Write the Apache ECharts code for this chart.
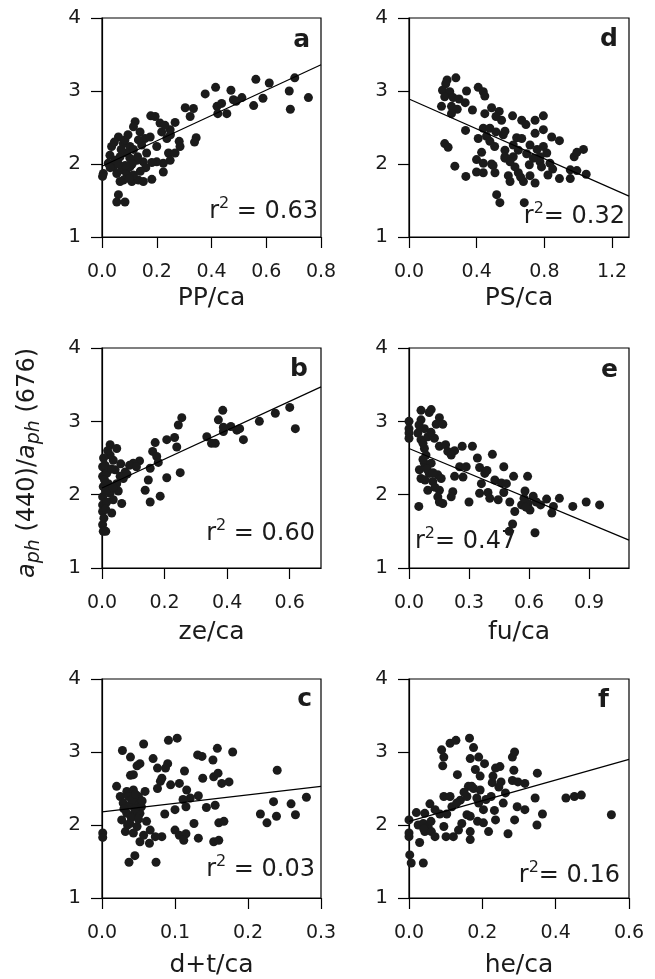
<!DOCTYPE html>
<html>
<head>
<meta charset="utf-8">
<script src="https://cdn.jsdelivr.net/npm/echarts@6/dist/echarts.min.js"></script>
<style>
html,body{margin:0;padding:0;background:#fff;}
#chart{width:655px;height:979px;}
</style>
</head>
<body>
<div id="chart"></div>
<script>
// ---------- DATA ----------
const yTicks = [1, 2, 3, 4];
const panelLetters = ['a', 'b', 'c', 'd', 'e', 'f'];
const xNames = ['PP/ca', 'ze/ca', 'd+t/ca', 'PS/ca', 'fu/ca', 'he/ca'];
const xMaxes = [0.8, 0.7, 0.3, 1.3, 1.1, 0.6];
const xTicksA = [0, 0.2, 0.4, 0.6, 0.8];
const xTicksB = [0, 0.2, 0.4, 0.6];
const xTicksC = [0, 0.1, 0.2, 0.3];
const xTicksD = [0, 0.4, 0.8, 1.2];
const xTicksE = [0, 0.3, 0.6, 0.9];
const xTicksF = [0, 0.2, 0.4, 0.6];
const r2Labels = ['{m|r}{s|2}{m| = 0.63}', '{m|r}{s|2}{m| = 0.60}', '{m|r}{s|2}{m| = 0.03}', '{m|r}{s|2}{m|= 0.32}', '{m|r}{s|2}{m|= 0.47}', '{m|r}{s|2}{m|= 0.16}'];

const fitA = [[0, 1.97], [0.8, 3.36]];
const fitB = [[0, 2.09], [0.7, 3.47]];
const fitC = [[0, 2.18], [0.3, 2.53]];
const fitD = [[0, 2.89], [1.3, 1.56]];
const fitE = [[0, 2.63], [1.1, 1.38]];
const fitF = [[0, 2.05], [0.6, 2.90]];

const ppData = [[0.704,3.18],[0.754,2.91],[0.684,3.00],[0.688,2.75],[0.611,3.11],[0.562,3.16],[0.588,2.90],[0.554,2.80],[0.511,2.91],[0.480,2.88],[0.471,3.01],[0.415,3.05],[0.377,2.96],[0.420,2.79],[0.437,2.83],[0.456,2.69],[0.423,2.69],[0.490,2.86],[0.304,2.77],[0.334,2.76],[0.322,2.65],[0.344,2.36],[0.338,2.30],[0.282,2.31],[0.285,2.24],[0.267,2.57],[0.249,2.47],[0.237,2.35],[0.218,2.44],[0.212,2.56],[0.194,2.65],[0.178,2.66],[0.121,2.58],[0.115,2.51],[0.139,2.44],[0.157,2.35],[0.176,2.37],[0.060,2.37],[0.035,2.24],[0.078,2.28],[0.102,2.24],[0.145,2.26],[0.200,2.24],[0.243,2.15],[0.267,2.15],[0.249,2.05],[0.224,2.01],[0.200,2.03],[0.182,2.02],[0.151,2.03],[0.127,2.05],[0.102,2.08],[0.066,2.10],[0.029,2.12],[0.023,2.01],[0.041,1.96],[0.054,1.87],[0.072,1.92],[0.090,1.87],[0.109,1.76],[0.078,1.78],[0.066,1.76],[0.133,1.78],[0.151,1.76],[0.182,1.79],[0.224,1.89],[0.005,1.87],[0.002,1.83],[0.060,1.58],[0.054,1.48],[0.084,1.48],[0.115,1.85],[0.102,1.96],[0.048,2.05],[0.090,2.15],[0.115,2.20],[0.163,2.15],[0.133,2.33],[0.084,2.33],[0.230,2.53],[0.250,2.40],[0.045,2.30],[0.095,2.40],[0.070,2.20],[0.130,2.10],[0.110,2.00],[0.085,1.98],[0.060,2.00],[0.160,1.95],[0.030,1.95],[0.140,1.90],[0.100,1.80]];

const zeData = [[0.600,3.19],[0.618,2.90],[0.554,3.11],[0.503,3.00],[0.452,2.75],[0.431,2.88],[0.440,2.90],[0.412,2.93],[0.388,2.86],[0.386,3.15],[0.372,3.02],[0.388,2.92],[0.362,2.70],[0.335,2.79],[0.350,2.70],[0.255,3.05],[0.244,2.95],[0.232,2.78],[0.239,2.65],[0.207,2.75],[0.170,2.71],[0.162,2.59],[0.175,2.52],[0.180,2.44],[0.154,2.36],[0.148,2.20],[0.138,2.06],[0.154,1.90],[0.186,1.98],[0.207,2.23],[0.250,2.30],[0.120,2.46],[0.100,2.43],[0.088,2.40],[0.074,2.31],[0.068,2.22],[0.052,2.05],[0.063,1.88],[0.031,1.75],[0.002,1.59],[0.004,1.50],[0.012,1.50],[0.026,2.68],[0.047,2.63],[0.026,2.54],[0.036,2.47],[0.002,2.38],[0.002,2.25],[0.004,2.11],[0.002,1.97],[0.002,1.86],[0.002,1.77],[0.015,2.29],[0.020,2.15],[0.026,2.02],[0.036,1.93],[0.042,2.34],[0.047,2.15],[0.010,2.40],[0.012,2.05],[0.015,1.90],[0.030,2.35],[0.058,2.25],[0.008,2.20],[0.018,2.60],[0.005,2.50],[0.035,2.10],[0.060,2.42],[0.080,2.28],[0.110,2.38],[0.012,1.80],[0.006,1.68]];

const dtData = [[0.057,3.11],[0.091,3.16],[0.103,3.19],[0.028,3.02],[0.039,2.93],[0.052,2.84],[0.048,2.81],[0.070,2.91],[0.076,2.78],[0.090,2.84],[0.087,2.78],[0.039,2.68],[0.043,2.69],[0.082,2.64],[0.080,2.60],[0.113,2.74],[0.076,2.50],[0.094,2.55],[0.106,2.57],[0.116,2.48],[0.131,2.96],[0.137,2.94],[0.152,2.89],[0.158,3.05],[0.179,3.00],[0.138,2.64],[0.153,2.66],[0.159,2.71],[0.164,2.57],[0.174,2.59],[0.240,2.75],[0.235,2.32],[0.259,2.29],[0.280,2.38],[0.217,2.15],[0.226,2.03],[0.239,2.12],[0.265,2.14],[0.155,2.27],[0.143,2.24],[0.132,2.40],[0.121,2.37],[0.111,2.35],[0.115,2.25],[0.100,2.21],[0.086,2.15],[0.126,2.02],[0.160,2.03],[0.167,2.05],[0.100,1.93],[0.106,1.86],[0.115,1.88],[0.112,1.79],[0.132,1.82],[0.153,1.77],[0.160,1.79],[0.082,1.84],[0.073,1.84],[0.065,1.75],[0.052,1.77],[0.037,1.49],[0.045,1.58],[0.074,1.49],[0.001,1.89],[0.001,1.83],[0.020,2.53],[0.025,2.39],[0.034,2.46],[0.043,2.48],[0.059,2.46],[0.029,2.30],[0.038,2.27],[0.048,2.32],[0.054,2.25],[0.034,2.16],[0.043,2.14],[0.052,2.16],[0.027,2.07],[0.038,2.02],[0.048,1.98],[0.061,2.05],[0.066,1.93],[0.032,1.91],[0.043,1.89],[0.057,1.86],[0.036,2.39],[0.050,2.39],[0.041,2.35],[0.045,2.22],[0.040,2.10],[0.035,2.00],[0.050,2.08],[0.030,2.22],[0.046,2.42],[0.055,2.33]];

const psData = [[0.277,3.18],[0.225,3.15],[0.217,3.10],[0.198,3.01],[0.241,2.99],[0.211,2.92],[0.261,2.91],[0.296,2.89],[0.340,3.00],[0.332,2.84],[0.192,2.79],[0.251,2.79],[0.285,2.75],[0.251,2.69],[0.375,2.74],[0.409,3.05],[0.439,2.99],[0.448,2.93],[0.488,2.77],[0.448,2.69],[0.533,2.72],[0.547,2.60],[0.514,2.65],[0.612,2.66],[0.666,2.60],[0.691,2.54],[0.745,2.60],[0.794,2.66],[0.334,2.46],[0.439,2.49],[0.478,2.49],[0.409,2.35],[0.458,2.38],[0.514,2.44],[0.557,2.40],[0.567,2.45],[0.636,2.36],[0.666,2.35],[0.745,2.42],[0.794,2.47],[0.843,2.37],[0.889,2.32],[0.478,2.31],[0.506,2.24],[0.567,2.19],[0.616,2.26],[0.646,2.19],[0.715,2.26],[0.794,2.24],[0.814,2.15],[0.774,2.10],[0.695,2.14],[0.616,2.10],[0.567,2.08],[0.429,2.16],[0.399,2.06],[0.488,2.00],[0.439,2.01],[0.211,2.28],[0.231,2.23],[0.271,1.97],[0.336,1.83],[0.399,1.89],[0.439,1.88],[0.508,1.88],[0.497,1.98],[0.587,1.84],[0.597,1.76],[0.646,1.88],[0.626,1.96],[0.676,1.76],[0.715,1.84],[0.745,1.74],[0.660,1.82],[0.711,1.99],[0.774,2.03],[0.783,1.96],[0.833,2.01],[0.849,1.93],[0.821,1.85],[0.889,1.80],[0.953,1.92],[0.953,1.80],[0.992,1.91],[1.047,1.86],[0.976,2.10],[0.992,2.16],[1.031,2.20],[0.518,1.58],[0.537,1.47],[0.681,1.47],[0.567,2.10],[0.597,2.03],[0.757,2.20],[0.735,2.08]];

const fuData = [[0.000,3.00],[0.000,2.90],[0.000,2.84],[0.000,2.77],[0.111,3.16],[0.060,3.15],[0.101,3.12],[0.060,3.02],[0.152,3.05],[0.136,2.96],[0.169,2.96],[0.077,2.90],[0.044,2.84],[0.060,2.75],[0.094,2.79],[0.127,2.77],[0.152,2.66],[0.183,2.68],[0.194,2.59],[0.228,2.60],[0.211,2.54],[0.266,2.66],[0.317,2.66],[0.077,2.63],[0.085,2.54],[0.077,2.43],[0.052,2.34],[0.060,2.22],[0.111,2.43],[0.101,2.29],[0.144,2.27],[0.161,2.22],[0.119,2.18],[0.094,2.06],[0.152,2.06],[0.144,1.97],[0.152,1.90],[0.169,1.88],[0.049,1.84],[0.219,2.04],[0.211,1.97],[0.228,2.25],[0.253,2.38],[0.286,2.38],[0.270,2.24],[0.300,1.90],[0.342,2.50],[0.353,2.37],[0.379,2.29],[0.417,2.55],[0.390,2.33],[0.362,2.15],[0.353,2.02],[0.395,2.03],[0.404,1.95],[0.446,1.93],[0.429,2.20],[0.474,2.38],[0.462,2.16],[0.487,2.15],[0.474,2.03],[0.523,2.25],[0.504,1.90],[0.529,1.77],[0.518,1.60],[0.501,1.50],[0.593,2.25],[0.580,2.05],[0.621,1.98],[0.563,1.86],[0.596,1.88],[0.605,1.79],[0.637,1.90],[0.658,1.86],[0.688,1.94],[0.714,1.75],[0.722,1.84],[0.752,1.95],[0.630,1.48],[0.819,1.84],[0.886,1.90],[0.953,1.86],[0.575,1.95],[0.585,1.83],[0.070,2.48],[0.090,2.35],[0.120,2.30],[0.080,2.20],[0.130,2.10],[0.070,2.70],[0.110,2.85],[0.050,2.95]];

const heData = [[0.000,2.07],[0.000,1.89],[0.000,1.84],[0.002,1.59],[0.006,1.48],[0.039,1.48],[0.029,1.76],[0.020,2.17],[0.043,2.16],[0.057,2.29],[0.071,2.21],[0.084,2.15],[0.103,2.15],[0.025,2.00],[0.039,2.02],[0.052,1.98],[0.043,1.91],[0.061,1.91],[0.071,1.84],[0.095,1.98],[0.101,1.84],[0.121,1.84],[0.135,1.93],[0.144,2.02],[0.167,1.91],[0.167,1.80],[0.095,2.39],[0.112,2.39],[0.117,2.25],[0.140,2.34],[0.158,2.39],[0.162,2.53],[0.158,2.14],[0.167,2.12],[0.089,3.03],[0.095,2.93],[0.092,2.81],[0.112,3.12],[0.128,3.16],[0.132,2.69],[0.165,3.19],[0.176,3.06],[0.167,2.91],[0.190,2.93],[0.206,2.84],[0.181,2.76],[0.194,2.67],[0.176,2.50],[0.194,2.48],[0.185,2.37],[0.190,2.30],[0.203,2.21],[0.187,2.05],[0.203,2.03],[0.217,1.91],[0.236,2.07],[0.233,2.20],[0.224,2.39],[0.227,2.58],[0.229,2.67],[0.236,2.78],[0.248,2.80],[0.251,2.59],[0.245,2.52],[0.263,2.44],[0.257,2.30],[0.282,2.61],[0.286,2.75],[0.282,2.93],[0.288,3.00],[0.297,2.59],[0.316,2.57],[0.295,2.25],[0.316,2.21],[0.288,2.07],[0.270,1.88],[0.350,2.71],[0.344,2.37],[0.364,2.15],[0.349,2.00],[0.428,2.37],[0.451,2.39],[0.470,2.41],[0.552,2.14],[0.171,2.53],[0.040,1.95],[0.060,2.05],[0.130,2.30],[0.210,2.35],[0.150,2.45]];

// ---------- LAYOUT ----------
const FONT = 'DejaVu Sans';
const INK = '#1b1b1b';
const grids = [
  {left: 102, top: 18, width: 219, height: 219},
  {left: 102, top: 348, width: 219, height: 220},
  {left: 102, top: 679, width: 219, height: 219},
  {left: 409, top: 18, width: 220, height: 219},
  {left: 409, top: 348, width: 220, height: 220},
  {left: 409, top: 679, width: 220, height: 219}
];
const nameGaps = [49, 52, 55, 49, 52, 55];
const xTickSets = [xTicksA, xTicksB, xTicksC, xTicksD, xTicksE, xTicksF];
const dataSets = [ppData, zeData, dtData, psData, fuData, heData];
const fits = [fitA, fitB, fitC, fitD, fitE, fitF];

const xAxes = [], yAxes = [], series = [];
grids.forEach((g, i) => {
  const ticks = xTickSets[i];
  xAxes.push({
    gridIndex: i, type: 'value', min: 0, max: xMaxes[i],
    interval: ticks[1] - ticks[0],
    name: xNames[i], nameLocation: 'middle', nameGap: nameGaps[i],
    nameTextStyle: {fontFamily: FONT, fontSize: 25, color: INK},
    axisLine: {show: true, onZero: false, lineStyle: {color: '#000', width: 1.2}},
    axisTick: {show: true, inside: false, length: 11, lineStyle: {color: '#000', width: 1.2}, customValues: ticks},
    axisLabel: {show: true, margin: 26, fontFamily: FONT, fontSize: 19, color: INK,
      customValues: ticks, formatter: v => v.toFixed(1), showMinLabel: true, showMaxLabel: true},
    splitLine: {show: false}
  });
  yAxes.push({
    gridIndex: i, type: 'value', min: 1, max: 4, interval: 1,
    axisLine: {show: true, onZero: false, lineStyle: {color: '#000', width: 1.2}},
    axisTick: {show: true, inside: false, length: 11, lineStyle: {color: '#000', width: 1.2}, customValues: yTicks},
    axisLabel: {show: true, margin: 21, fontFamily: FONT, fontSize: 20, color: INK, customValues: yTicks},
    splitLine: {show: false}
  });
  series.push({
    type: 'scatter', xAxisIndex: i, yAxisIndex: i,
    data: dataSets[i], symbol: 'circle', symbolSize: 9,
    itemStyle: {color: INK, opacity: 1}, silent: true
  });
  series.push({
    type: 'line', xAxisIndex: i, yAxisIndex: i,
    data: fits[i], symbol: 'none', silent: true,
    lineStyle: {color: '#000', width: 1.2}, z: 3
  });
});

const gridOpts = grids.map(g => Object.assign({}, g, {show: true, borderColor: '#000', borderWidth: 1.2, backgroundColor: 'transparent', containLabel: false}));

// letter + r2 positions
const letterPos = [[310, 40], [308, 369], [312, 699], [618, 39], [618, 370], [609, 700]];
const r2Pos = [[318, 210, 'right'], [315, 532, 'right'], [315, 868, 'right'], [625, 215, 'right'], [415, 540, 'left'], [620, 874, 'right']];

const graphics = [];
panelLetters.forEach((L, i) => {
  graphics.push({
    type: 'text', x: letterPos[i][0], y: letterPos[i][1], silent: true,
    style: {text: L, fontFamily: FONT, fontSize: 25, fontWeight: 'bold', fill: INK, align: 'right', verticalAlign: 'middle'}
  });
  graphics.push({
    type: 'text', x: r2Pos[i][0], y: r2Pos[i][1], silent: true,
    style: {
      text: r2Labels[i], fontFamily: FONT, fontSize: 24, fill: INK,
      align: r2Pos[i][2], verticalAlign: 'middle',
      rich: {
        m: {fontFamily: FONT, fontSize: 24, fill: INK, lineHeight: 28, verticalAlign: 'bottom'},
        s: {fontFamily: FONT, fontSize: 16, fill: INK, lineHeight: 16, verticalAlign: 'top'}
      }
    }
  });
});
graphics.push({
  type: 'text', x: 28, y: 463, rotation: Math.PI / 2, silent: true,
  style: {
    text: '{i|a}{s|ph} (440)/{i|a}{s|ph} (676)',
    fontFamily: FONT, fontSize: 24, fill: INK, align: 'center', verticalAlign: 'middle',
    rich: {
      i: {fontFamily: FONT, fontSize: 24, fontStyle: 'italic', fill: INK},
      s: {fontFamily: FONT, fontSize: 19, fontStyle: 'italic', fill: INK, padding: [12, 0, 0, 0]}
    }
  }
});

const chart = echarts.init(document.getElementById('chart'), null, {renderer: 'canvas', width: 655, height: 979});
chart.setOption({
  animation: false,
  backgroundColor: '#fff',
  textStyle: {fontFamily: FONT},
  grid: gridOpts,
  xAxis: xAxes,
  yAxis: yAxes,
  series: series,
  graphic: graphics
});
</script>
</body>
</html>
